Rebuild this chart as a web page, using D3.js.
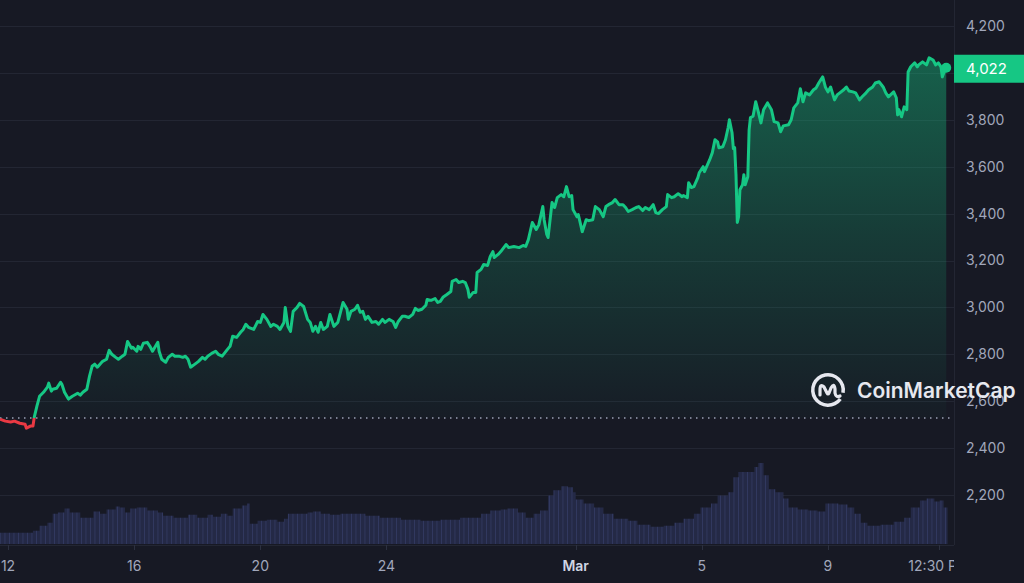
<!DOCTYPE html>
<html><head><meta charset="utf-8">
<script src="https://cdn.jsdelivr.net/npm/d3@7"></script>
<style>
html,body{margin:0;padding:0;background:#171924;overflow:hidden}
svg{display:block;font-family:Inter,"Noto Sans",sans-serif}
</style>
</head><body>
<svg id="chart" width="1024" height="583"></svg>
<script>
// ---- data (hours since 2024-02-12 00:00 UTC) ----
const priceHours = [-6,-2,2,5,9,13,14,17,19,20,22,24,27,30,31,33,34,37,40,41,43,46,49,53,55,57,60,62,64,66,68,70,72,75,77,79,82,84,87,89,91,94,95,98,99,101,103,106,108,110,114,115,117,120,122,125,127,130,133,135,137,139,141,145,148,150,152,155,158,160,163,167,169,171,174,177,179,181,183,187,190,192,194,197,200,202,205,207,210,211,213,215,217,220,222,225,228,230,232,234,236,238,240,243,245,248,251,253,255,258,259,261,264,266,268,270,272,274,277,280,282,285,287,290,293,295,297,300,302,305,308,310,312,315,318,319,322,325,327,329,331,334,337,338,341,343,346,348,350,351,354,356,357,360,362,365,367,369,370,373,375,379,381,385,389,392,394,396,399,402,404,407,408,410,411,414,416,418,421,423,425,427,429,430,433,434,437,440,442,445,447,450,453,455,457,460,462,465,468,470,472,475,478,480,483,485,488,491,493,495,498,501,502,505,507,510,513,514,517,518,520,522,525,526,529,530,533,534,536,538,540,541,544,546,548,549,551,552,553,554,555,556,557,559,560,561,563,564,565,567,569,571,573,575,578,581,583,586,588,590,594,596,598,601,603,605,607,610,613,615,617,620,622,624,626,629,631,633,636,638,640,643,645,648,650,653,655,658,660,663,666,668,670,674,676,677,678,680,682,684,685,687,690,692,693,696,699,701,704,706,708,710,711,713,714];
const prices = [2523,2515,2511,2515,2506,2502,2485,2494,2494,2532,2579,2621,2638,2660,2677,2643,2651,2655,2681,2672,2638,2609,2621,2634,2626,2638,2651,2706,2749,2758,2745,2758,2770,2779,2817,2800,2787,2779,2792,2800,2855,2826,2830,2813,2834,2821,2847,2851,2834,2813,2851,2813,2779,2766,2787,2800,2792,2792,2787,2792,2779,2745,2753,2770,2787,2779,2792,2804,2813,2800,2792,2821,2834,2877,2872,2894,2906,2928,2915,2906,2940,2936,2970,2949,2919,2928,2919,2906,2936,3000,2919,2898,2983,3000,3017,3004,2949,2936,2898,2919,2894,2936,2906,2919,2970,2919,2936,2979,3021,2992,2949,2983,2992,3009,2979,2983,2949,2962,2936,2940,2928,2949,2936,2949,2940,2915,2940,2962,2962,2957,2970,2996,2987,2992,3009,3034,3030,3038,3021,3026,3043,3055,3068,3111,3119,3106,3111,3106,3077,3043,3064,3064,3149,3162,3183,3179,3217,3238,3213,3226,3238,3268,3255,3260,3255,3264,3260,3289,3362,3332,3353,3430,3374,3311,3298,3447,3426,3468,3481,3472,3515,3472,3477,3417,3387,3396,3323,3374,3370,3374,3430,3417,3387,3430,3438,3447,3460,3438,3438,3426,3409,3417,3426,3430,3413,3426,3417,3438,3404,3400,3417,3430,3481,3468,3472,3485,3472,3477,3468,3532,3511,3515,3553,3574,3600,3579,3617,3630,3660,3715,3706,3681,3685,3715,3766,3800,3745,3677,3681,3566,3362,3387,3502,3523,3566,3523,3557,3757,3809,3815,3877,3834,3787,3843,3872,3843,3792,3787,3749,3774,3779,3800,3851,3872,3932,3877,3915,3906,3928,3936,3957,3983,3940,3919,3940,3885,3906,3915,3928,3940,3923,3919,3915,3885,3898,3915,3928,3940,3957,3962,3940,3915,3898,3919,3894,3821,3843,3813,3855,3843,4004,4026,4043,4026,4034,4047,4034,4064,4055,4034,4043,4026,3983,4013,4022];
const volumeHours = [-6,2,19,24,30,34,38,43,47,55,60,65,70,75,82,85,89,93,98,106,114,118,126,133,137,144,152,156,162,167,171,178,182,184,190,197,205,210,213,220,228,232,238,245,253,261,272,283,299,314,329,344,360,367,375,380,388,394,400,405,411,415,421,426,430,432,438,446,453,461,472,479,489,499,507,514,522,527,535,540,548,552,556,563,568,571,575,579,584,590,594,601,609,616,621,622,632,639,644,649,654,664,674,682,687,694,699,705,709,712,715];
const volumes = [5.5,5.5,6.5,9,10.5,15,15.5,17.5,15.5,13,13,16,15,17,18.5,18,15.5,17.5,18,16.5,15.5,14,13,13,14.5,13,14.5,13.5,15,14,17.5,19,20,10,11.5,12,11,12.5,15,15,15.5,16,15,14.5,15,15,14,13,12,11.5,12,13,15,16.5,17,17.5,15.5,13,15,16.5,24,26.5,28.5,28,25.5,22,20,18,15,12.5,11.5,9.5,8.5,9,10.5,12.5,15,18,20,24,25.5,33,35.5,35.5,38,40,34,27,25.5,22.5,18,17,16.5,16,16,20,19.5,18,15,10.5,9,9.5,11,13,18,21.5,22.5,21,21.5,18,17.5];
const yTickValues = [2200,2400,2600,2800,3000,3200,3400,3600,3800,4000,4200];
const xTickDates = ["2024-02-12T00:00Z","2024-02-16T00:00Z","2024-02-20T00:00Z","2024-02-24T00:00Z","2024-03-01T00:00Z","2024-03-05T00:00Z","2024-03-09T00:00Z","2024-03-12T12:30Z"];
const xTickLabels = ["12","16","20","24","Mar","5","9","12:30 PM"];
const baselinePrice = 2528;
const lastPriceLabel = "4,022";

// ---- setup ----
const svg = d3.select("#chart");
const W = 1024, H = 583;
const plotRight = 954, plotBottom = 545;
const t0 = Date.UTC(2024,1,12);
const priceData = priceHours.map((h,i)=>({t:new Date(t0+h*3600e3), p:prices[i]}));
const volData = volumeHours.map((h,i)=>({t:new Date(t0+h*3600e3), v:volumes[i]}));

const x = d3.scaleUtc()
  .domain([new Date(Date.UTC(2024,1,12)), new Date(Date.UTC(2024,2,12,12,30))])
  .range([8, 939]);
const y = d3.scaleLinear().domain([2200,4200]).range([495,26]);
const yv = d3.scaleLinear().domain([0,40]).range([plotBottom-1, 463]);

const green = "#16c784", red = "#ea3943";
const baseY = y(baselinePrice);

svg.append("rect").attr("width",W).attr("height",H).attr("fill","#171924");

const defs = svg.append("defs");
const grad = defs.append("linearGradient").attr("id","areaGrad")
  .attr("gradientUnits","userSpaceOnUse").attr("x1",0).attr("x2",0)
  .attr("y1",y(4100)).attr("y2",baseY);
grad.append("stop").attr("offset",0).attr("stop-color",green).attr("stop-opacity",0.42);
grad.append("stop").attr("offset",0.5).attr("stop-color",green).attr("stop-opacity",0.2);
grad.append("stop").attr("offset",1).attr("stop-color",green).attr("stop-opacity",0.02);

defs.append("clipPath").attr("id","clipUp").append("rect")
  .attr("x",0).attr("y",0).attr("width",plotRight).attr("height",baseY);
defs.append("clipPath").attr("id","clipDown").append("rect")
  .attr("x",0).attr("y",baseY).attr("width",plotRight).attr("height",H-baseY);
defs.append("clipPath").attr("id","clipPlot").append("rect")
  .attr("x",0).attr("y",0).attr("width",plotRight).attr("height",H);

const pat = defs.append("pattern").attr("id","volStripe")
  .attr("patternUnits","userSpaceOnUse").attr("width",4.5).attr("height",10);
pat.append("rect").attr("width",4.5).attr("height",10).attr("fill","#242946");
pat.append("line").attr("x1",0.4).attr("x2",0.4).attr("y1",0).attr("y2",10)
  .attr("stroke","#353d66").attr("stroke-width",0.8);

// grid
svg.append("g").selectAll("line").data(yTickValues).join("line")
  .attr("x1",0).attr("x2",plotRight)
  .attr("y1",d=>Math.round(y(d))+0.5).attr("y2",d=>Math.round(y(d))+0.5)
  .attr("stroke","#232633").attr("stroke-width",1);

// volume
const volArea = d3.area().curve(d3.curveStepAfter)
  .x(d=>x(d.t)).y0(plotBottom-1).y1(d=>yv(d.v));
svg.append("path").datum(volData).attr("d",volArea)
  .attr("fill","url(#volStripe)").attr("clip-path","url(#clipPlot)");

// price area
const area = d3.area().curve(d3.curveLinear)
  .x(d=>x(d.t)).y0(baseY).y1(d=>y(d.p));
svg.append("path").datum(priceData).attr("d",area)
  .attr("fill","url(#areaGrad)").attr("clip-path","url(#clipUp)");

// baseline dotted
svg.append("line").attr("x1",0).attr("x2",plotRight)
  .attr("y1",baseY).attr("y2",baseY)
  .attr("stroke","#9aa0b4").attr("stroke-width",1.5)
  .attr("stroke-dasharray","1.5,4.5");

// price line
const line = d3.line().curve(d3.curveLinear).x(d=>x(d.t)).y(d=>y(d.p));
svg.append("path").datum(priceData).attr("d",line)
  .attr("fill","none").attr("stroke",green).attr("stroke-width",3)
  .attr("stroke-linejoin","round").attr("clip-path","url(#clipUp)");
svg.append("path").datum(priceData).attr("d",line)
  .attr("fill","none").attr("stroke",red).attr("stroke-width",3)
  .attr("stroke-linejoin","round").attr("clip-path","url(#clipDown)");

// last dot
const last = priceData[priceData.length-1];
svg.append("circle").attr("cx",x(last.t)).attr("cy",y(last.p)).attr("r",5).attr("fill",green);

// frame lines
svg.append("line").attr("x1",0).attr("x2",plotRight).attr("y1",plotBottom+0.5).attr("y2",plotBottom+0.5)
  .attr("stroke","#232633");
svg.append("line").attr("x1",plotRight+0.5).attr("x2",plotRight+0.5).attr("y1",0).attr("y2",plotBottom)
  .attr("stroke","#232633");

// price box position
const lastY = y(last.p)+1;

// y labels (those hidden by the price box are not drawn)
svg.append("g").selectAll("text").data(yTickValues.filter(d=>Math.abs(y(d)-lastY)>16)).join("text")
  .attr("x",966).attr("y",d=>y(d)).attr("dy","0.35em")
  .attr("fill","#a1a7bb").attr("font-size",14)
  .text(d=>d3.format(",")(d));

// price box
svg.append("rect").attr("x",plotRight).attr("y",lastY-14).attr("width",W-plotRight).attr("height",28)
  .attr("fill",green);
svg.append("text").attr("x",966).attr("y",lastY).attr("dy","0.36em")
  .attr("fill","#ffffff").attr("font-size",15).text(lastPriceLabel);

// x axis
const xg = svg.append("g").attr("clip-path","url(#clipPlot)");
xTickDates.forEach((ds,i)=>{
  const d = new Date(ds);
  const xx = Math.round(x(d))+0.5;
  xg.append("line").attr("x1",xx).attr("x2",xx).attr("y1",plotBottom).attr("y2",plotBottom+5)
    .attr("stroke","#2c3040");
  const isMonth = xTickLabels[i]==="Mar";
  xg.append("text").attr("x",x(d)).attr("y",571)
    .attr("text-anchor","middle").attr("font-size",14)
    .attr("font-weight",isMonth?600:400)
    .attr("fill",isMonth?"#cfd6e4":"#a1a7bb")
    .text(xTickLabels[i]);
});

// watermark logo
const lg = svg.append("g").attr("transform","translate(828,390)");
lg.append("path")
  .attr("d", d3.arc()({innerRadius:13.5,outerRadius:17,startAngle:2.2,endAngle:2*Math.PI+1.75}))
  .attr("fill","#e6e8ef");
lg.append("path")
  .attr("d","M-8,5 L-8,0 Q-8,-7 -4,-3 L-1,3 Q0,5 1,3 L3,-2 Q6,-8 7,-1 L7,3 Q8,8 12,6")
  .attr("fill","none").attr("stroke","#e6e8ef").attr("stroke-width",3.2)
  .attr("stroke-linecap","round").attr("stroke-linejoin","round");
svg.append("text").attr("x",857).attr("y",398)
  .attr("fill","#e6e8ef").attr("font-size",21).attr("font-weight",600)
  .text("CoinMarketCap");
</script>
</body></html>
